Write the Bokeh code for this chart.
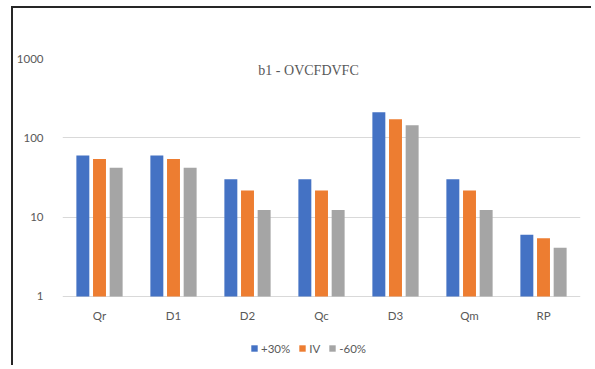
from bokeh.plotting import figure
from bokeh.models import (FactorRange, FixedTicker, PrintfTickFormatter, Legend,
                          LegendItem, Label, ColumnDataSource)
from bokeh.core.properties import value
from bokeh.transform import dodge
from bokeh.embed import file_html
from bokeh.resources import INLINE

categories = ["Qr", "D1", "D2", "Qc", "D3", "Qm", "RP"]
plus30 = [60, 60, 30, 30, 210, 30, 6]
iv = [54, 54, 21.6, 21.6, 172, 21.6, 5.4]
minus60 = [42, 42, 12.3, 12.3, 144, 12.3, 4.1]
series_names = ["+30%", "IV", "-60%"]
colors = ["#4472C4", "#ED7D31", "#A5A5A5"]
y_ticks = [1, 10, 100, 1000]
title_text = "b1 - OVCFDVFC"

# layout constants (log-space room below 1 for category labels and legend)
y_start = 0.127
label_y = 0.576

src = ColumnDataSource(dict(cat=categories, a=plus30, b=iv, c=minus60,
                            base=[1] * len(categories),
                            ly=[label_y] * len(categories)))

p = figure(x_range=FactorRange(*categories), y_range=(y_start, 1000), y_axis_type="log",
           x_axis_location=None,
           width=580, height=359, output_backend="svg", toolbar_location=None,
           min_border_left=47, min_border_right=13, min_border_top=50,
           min_border_bottom=0)
p.styles = {"border-top": "2px solid #262626", "border-left": "2px solid #262626",
            "margin-left": "11px", "margin-top": "6px"}
p.outline_line_color = None
p.background_fill_color = "white"
p.border_fill_color = "white"

gray_text = "#595959"
grid_col = "#d9d9d9"
font = "Lato"
fsize = "11.5px"

renderers = []
for key, off, col in zip(["a", "b", "c"], [-0.225, 0.0, 0.225], colors):
    r = p.vbar(x=dodge("cat", off, range=p.x_range), top=key, bottom="base",
               width=0.175, source=src, fill_color=col, line_color=None)
    renderers.append(r)

p.text(x="cat", y="ly", text="cat", source=src, text_align="center",
       text_baseline="middle", text_font=value(font), text_font_size=fsize,
       text_color=gray_text)

p.xgrid.grid_line_color = None
p.ygrid.grid_line_color = grid_col
p.ygrid.grid_line_width = 1

p.yaxis.ticker = FixedTicker(ticks=y_ticks, minor_ticks=[])
p.yaxis.formatter = PrintfTickFormatter(format="%d")
p.yaxis.axis_line_color = None
p.yaxis.major_tick_line_color = None
p.yaxis.minor_tick_line_color = None
p.yaxis.major_label_standoff = 13
p.yaxis.major_label_text_color = gray_text
p.yaxis.major_label_text_font = font
p.yaxis.major_label_text_font_size = fsize

title = Label(x=3.325, y=708, text=title_text, text_align="center",
              text_baseline="middle", text_font="Liberation Serif",
              text_font_size="14px", text_color=gray_text)
p.add_layout(title)

legend = Legend(items=[LegendItem(label=n, renderers=[r]) for n, r in zip(series_names, renderers)],
                orientation="horizontal", location=(188, 12),
                glyph_width=8, glyph_height=8, label_standoff=3, spacing=8,
                padding=0, margin=0, border_line_color=None,
                background_fill_alpha=0,
                label_text_font=font, label_text_font_size=fsize,
                label_text_color=gray_text, label_height=14, label_width=0)
p.add_layout(legend, "center")

open("out.html", "w").write(file_html(p, INLINE))
